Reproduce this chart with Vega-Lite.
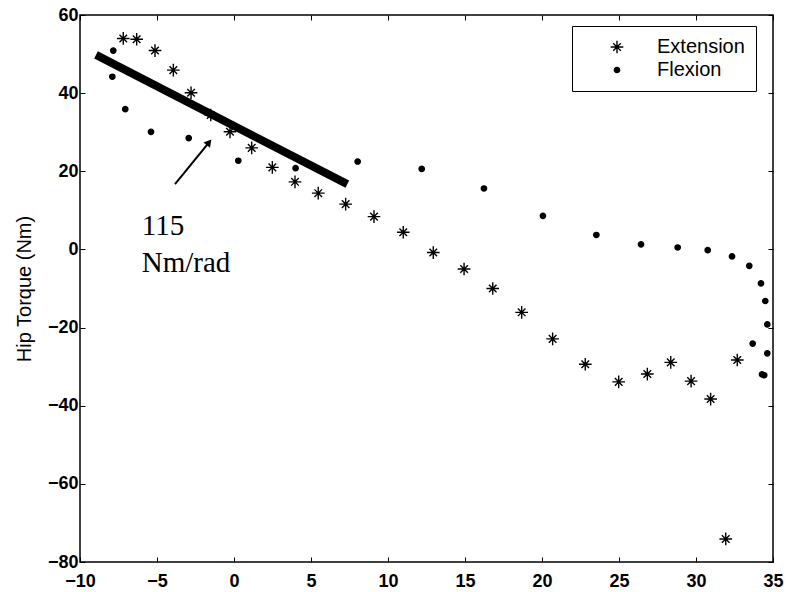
{
  "$schema": "https://vega.github.io/schema/vega-lite/v6.json",
  "width": 693,
  "height": 547,
  "autosize": {"type": "none"},
  "padding": {"left": 80, "top": 15, "right": 14, "bottom": 30},
  "background": "white",
  "config": {
    "view": {"stroke": "black", "strokeWidth": 1.5},
    "axis": {
      "domain": false,
      "grid": false,
      "ticks": true,
      "tickColor": "black",
      "tickSize": -5,
      "tickWidth": 1,
      "labelColor": "black",
      "labelFont": "Liberation Sans",
      "labelFontSize": 18,
      "labelFontWeight": "bold",
      "labelFlush": false,
      "labelOverlap": false,
      "titleColor": "black",
      "titleFont": "Liberation Sans",
      "titleFontSize": 20,
      "titleFontWeight": "normal"
    }
  },
  "datasets": {
    "pts": [
      {"angle": -7.19, "torque": 54.0, "series": "Extension"},
      {"angle": -6.32, "torque": 53.8, "series": "Extension"},
      {"angle": -5.13, "torque": 50.9, "series": "Extension"},
      {"angle": -3.94, "torque": 45.9, "series": "Extension"},
      {"angle": -2.79, "torque": 40.1, "series": "Extension"},
      {"angle": -1.51, "torque": 34.4, "series": "Extension"},
      {"angle": -0.26, "torque": 30.1, "series": "Extension"},
      {"angle": 1.15, "torque": 26.0, "series": "Extension"},
      {"angle": 2.49, "torque": 21.0, "series": "Extension"},
      {"angle": 3.96, "torque": 17.3, "series": "Extension"},
      {"angle": 5.47, "torque": 14.4, "series": "Extension"},
      {"angle": 7.25, "torque": 11.6, "series": "Extension"},
      {"angle": 9.09, "torque": 8.4, "series": "Extension"},
      {"angle": 10.99, "torque": 4.4, "series": "Extension"},
      {"angle": 12.94, "torque": -0.8, "series": "Extension"},
      {"angle": 14.94, "torque": -5.0, "series": "Extension"},
      {"angle": 16.8, "torque": -10.0, "series": "Extension"},
      {"angle": 18.68, "torque": -16.1, "series": "Extension"},
      {"angle": 20.69, "torque": -22.9, "series": "Extension"},
      {"angle": 22.81, "torque": -29.4, "series": "Extension"},
      {"angle": 24.98, "torque": -33.9, "series": "Extension"},
      {"angle": 26.84, "torque": -31.9, "series": "Extension"},
      {"angle": 28.36, "torque": -28.9, "series": "Extension"},
      {"angle": 29.68, "torque": -33.7, "series": "Extension"},
      {"angle": 30.95, "torque": -38.3, "series": "Extension"},
      {"angle": 31.93, "torque": -74.1, "series": "Extension"},
      {"angle": 32.68, "torque": -28.3, "series": "Extension"},
      {"angle": -7.84, "torque": 50.9, "series": "Flexion"},
      {"angle": -7.9, "torque": 44.2, "series": "Flexion"},
      {"angle": -7.06, "torque": 35.9, "series": "Flexion"},
      {"angle": -5.39, "torque": 30.1, "series": "Flexion"},
      {"angle": -2.94, "torque": 28.5, "series": "Flexion"},
      {"angle": 0.28, "torque": 22.7, "series": "Flexion"},
      {"angle": 4.0, "torque": 20.8, "series": "Flexion"},
      {"angle": 8.03, "torque": 22.5, "series": "Flexion"},
      {"angle": 12.19, "torque": 20.6, "series": "Flexion"},
      {"angle": 16.23, "torque": 15.6, "series": "Flexion"},
      {"angle": 20.06, "torque": 8.6, "series": "Flexion"},
      {"angle": 23.53, "torque": 3.7, "series": "Flexion"},
      {"angle": 26.43, "torque": 1.3, "series": "Flexion"},
      {"angle": 28.81, "torque": 0.5, "series": "Flexion"},
      {"angle": 30.76, "torque": -0.2, "series": "Flexion"},
      {"angle": 32.34, "torque": -1.8, "series": "Flexion"},
      {"angle": 33.46, "torque": -4.2, "series": "Flexion"},
      {"angle": 34.22, "torque": -8.7, "series": "Flexion"},
      {"angle": 34.5, "torque": -13.2, "series": "Flexion"},
      {"angle": 34.63, "torque": -19.2, "series": "Flexion"},
      {"angle": 33.68, "torque": -24.1, "series": "Flexion"},
      {"angle": 34.63, "torque": -26.6, "series": "Flexion"},
      {"angle": 34.29, "torque": -32.0, "series": "Flexion"},
      {"angle": 34.43, "torque": -32.2, "series": "Flexion"}
    ],
    "fit": [
      {"angle": -8.96, "torque": 49.8},
      {"angle": 7.36, "torque": 16.7}
    ],
    "arrow": [
      {"angle": -3.83, "torque": 16.7},
      {"angle": -1.7, "torque": 27.0}
    ],
    "head": [
      {"angle": -1.62, "torque": 27.4}
    ],
    "label": [
      {"angle": -5.99, "torque": 3.7, "text": "115"},
      {"angle": -5.99, "torque": -5.7, "text": "Nm/rad"}
    ]
  },
  "resolve": {"axis": {"x": "independent", "y": "independent"}},
  "layer": [
    {
      "data": {"name": "pts"},
      "mark": {"type": "point", "filled": true, "stroke": "black", "strokeWidth": 1.4, "opacity": 1},
      "encoding": {
        "x": {
          "field": "angle", "type": "quantitative",
          "scale": {"domain": [-10, 35], "nice": false, "zero": false},
          "axis": {"orient": "bottom", "title": null, "values": [-10, -5, 0, 5, 10, 15, 20, 25, 30, 35], "labelPadding": 15}
        },
        "y": {
          "field": "torque", "type": "quantitative",
          "scale": {"domain": [-80, 60], "nice": false, "zero": false},
          "axis": {"orient": "left", "title": "Hip Torque (Nm)", "values": [-80, -60, -40, -20, 0, 20, 40, 60], "labelPadding": 7, "titlePadding": 13}
        },
        "shape": {
          "field": "series", "type": "nominal",
          "scale": {"domain": ["Extension", "Flexion"], "range": ["M0,-1V1M-1,0H1M-0.6,-0.6L0.6,0.6M-0.6,0.6L0.6,-0.6", "circle"]},
          "legend": {
            "title": null,
            "orient": "none",
            "legendX": 492,
            "legendY": 11,
            "strokeColor": "black",
            "fillColor": "white",
            "padding": 11,
            "symbolOffset": 24,
            "labelOffset": 30,
            "labelFont": "Liberation Sans",
            "labelFontSize": 20,
            "labelColor": "black",
            "rowPadding": 3,
            "symbolStrokeColor": "black",
            "symbolStrokeWidth": 1.4
          }
        },
        "fill": {
          "field": "series", "type": "nominal",
          "scale": {"domain": ["Extension", "Flexion"], "range": ["transparent", "black"]},
          "legend": {"title": null}
        },
        "size": {
          "field": "series", "type": "nominal",
          "scale": {"domain": ["Extension", "Flexion"], "range": [160, 28]},
          "legend": {"title": null}
        }
      }
    },
    {
      "data": {"name": "fit"},
      "mark": {"type": "line", "color": "black", "strokeWidth": 8, "strokeCap": "butt"},
      "encoding": {
        "x": {"field": "angle", "type": "quantitative", "axis": {"orient": "top", "labels": false, "title": null, "values": [-10, -5, 0, 5, 10, 15, 20, 25, 30, 35]}},
        "y": {"field": "torque", "type": "quantitative", "axis": {"orient": "right", "labels": false, "title": null, "values": [-80, -60, -40, -20, 0, 20, 40, 60]}}
      }
    },
    {
      "data": {"name": "arrow"},
      "mark": {"type": "line", "color": "black", "strokeWidth": 2},
      "encoding": {
        "x": {"field": "angle", "type": "quantitative", "axis": null},
        "y": {"field": "torque", "type": "quantitative", "axis": null}
      }
    },
    {
      "data": {"name": "head"},
      "mark": {"type": "point", "shape": "triangle-up", "filled": true, "color": "black", "size": 70, "angle": 39, "opacity": 1},
      "encoding": {
        "x": {"field": "angle", "type": "quantitative", "axis": null},
        "y": {"field": "torque", "type": "quantitative", "axis": null}
      }
    },
    {
      "data": {"name": "label"},
      "mark": {"type": "text", "align": "left", "baseline": "alphabetic", "font": "Liberation Serif", "fontSize": 29, "color": "black"},
      "encoding": {
        "x": {"field": "angle", "type": "quantitative", "axis": null},
        "y": {"field": "torque", "type": "quantitative", "axis": null},
        "text": {"field": "text", "type": "nominal"}
      }
    }
  ]
}
